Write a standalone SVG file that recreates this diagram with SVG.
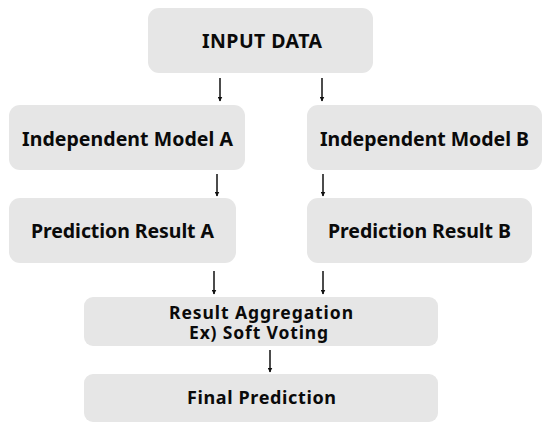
<svg xmlns="http://www.w3.org/2000/svg" width="550" height="431" viewBox="0 0 550 431">
<style>
.box{fill:#e6e6e6;stroke:none}
.t{font-family:"Noto Sans","Open Sans",sans-serif;font-weight:bold;font-size:19.5px;fill:#0a0a0a;text-anchor:middle}
.s{font-size:17.5px}
.f{font-size:18px}
.c line{stroke:#111;stroke-width:1.5;marker-end:url(#ah)}
</style>
<defs>
<marker id="ah" viewBox="0 0 10 10" refX="9" refY="5" markerWidth="5" markerHeight="5" orient="auto" markerUnits="userSpaceOnUse"><path d="M0,0 L10,5 L0,10 z" fill="#111"/></marker>
</defs>
<rect width="550" height="431" fill="#fff"/>
<g id="input"><rect class="box" x="148" y="8" width="225" height="65" rx="11"/><text class="t" x="262" y="48" textLength="120" lengthAdjust="spacing">INPUT DATA</text></g>
<g id="modelA"><rect class="box" x="9" y="105" width="236" height="65" rx="11"/><text class="t" x="127.5" y="146" textLength="211" lengthAdjust="spacing">Independent Model A</text></g>
<g id="modelB"><rect class="box" x="307" y="105" width="235" height="65" rx="11"/><text class="t" x="424.5" y="146" textLength="209" lengthAdjust="spacing">Independent Model B</text></g>
<g id="predA"><rect class="box" x="9" y="198" width="227" height="65" rx="11"/><text class="t" x="122.5" y="237.5" textLength="183" lengthAdjust="spacing">Prediction Result A</text></g>
<g id="predB"><rect class="box" x="307" y="198" width="225" height="65" rx="11"/><text class="t" x="419.5" y="237.5" textLength="183" lengthAdjust="spacing">Prediction Result B</text></g>
<g id="agg"><rect class="box" x="84" y="297" width="354" height="49" rx="9"/><text class="t s" x="261" y="319" textLength="184" lengthAdjust="spacing">Result Aggregation</text><text class="t s" x="258.5" y="338.5" textLength="139" lengthAdjust="spacing">Ex) Soft Voting</text></g>
<g id="final"><rect class="box" x="84" y="374" width="354" height="48" rx="9"/><text class="t f" x="261.5" y="404" textLength="149" lengthAdjust="spacing">Final Prediction</text></g>
<g class="c" id="connectors">
<line x1="220" y1="78" x2="220" y2="101"/>
<line x1="322" y1="78" x2="322" y2="101"/>
<line x1="217" y1="174" x2="217" y2="196"/>
<line x1="323" y1="174" x2="323" y2="196"/>
<line x1="214" y1="271" x2="214" y2="294"/>
<line x1="323" y1="271" x2="323" y2="294"/>
<line x1="270" y1="350" x2="270" y2="372"/>
</g>
</svg>
